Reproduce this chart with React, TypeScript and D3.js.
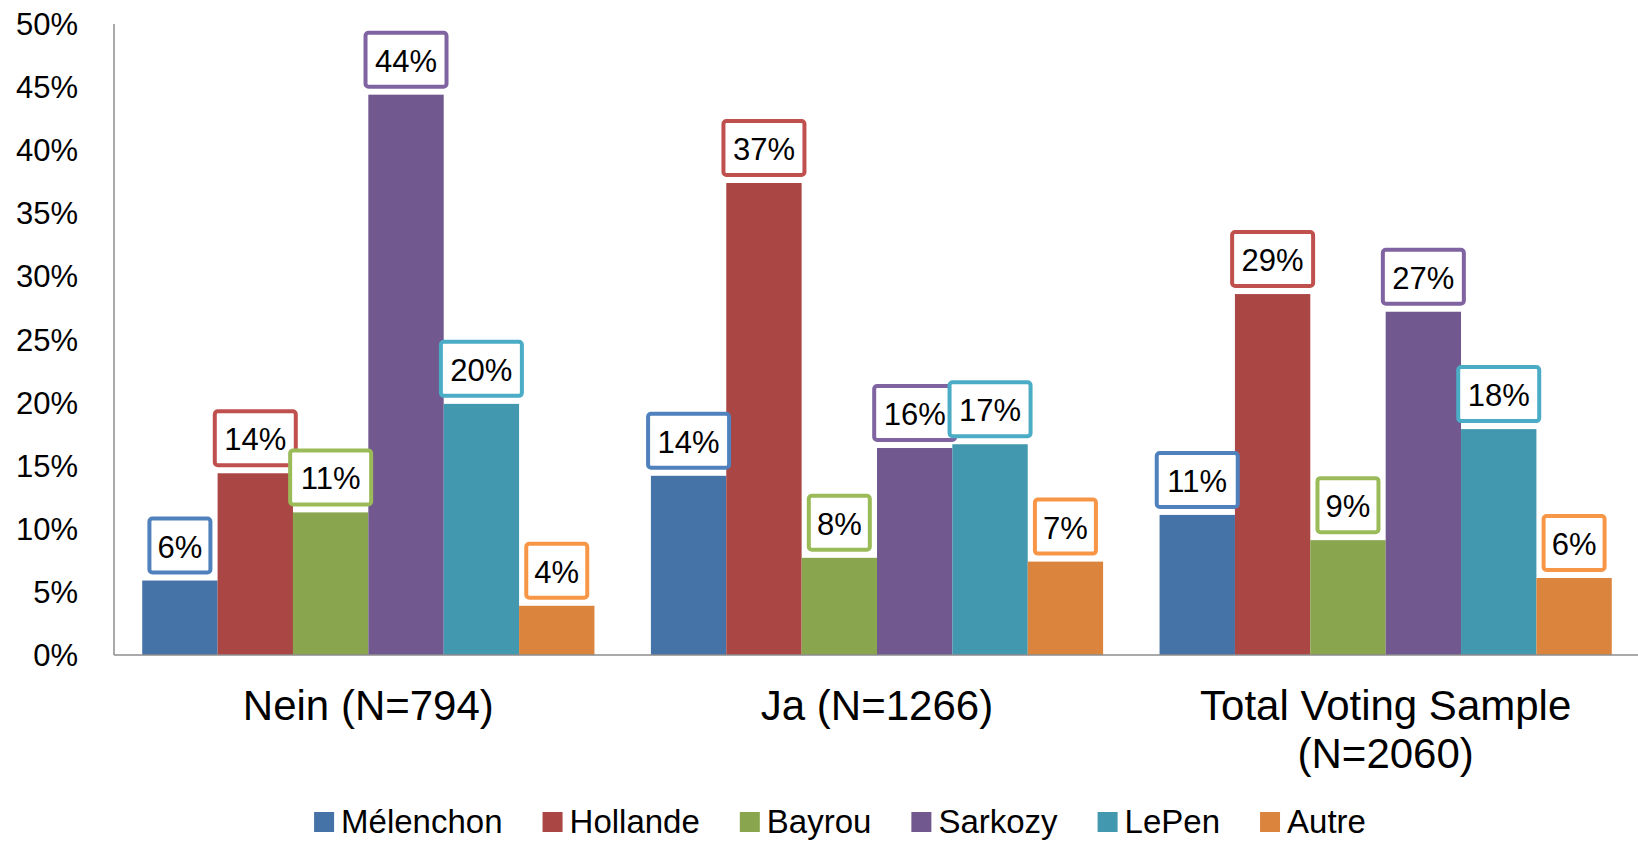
import React, { useEffect, useRef } from 'react';
import * as d3 from 'd3';

const groups = ['Nein (N=794)', 'Ja (N=1266)', 'Total Voting Sample (N=2060)'];
const groupLines = [['Nein (N=794)'], ['Ja (N=1266)'], ['Total Voting Sample', '(N=2060)']];
const candidates = ['Mélenchon', 'Hollande', 'Bayrou', 'Sarkozy', 'LePen', 'Autre'];

// percentages per candidate, one value per group
const melenchon = [5.9, 14.2, 11.1];
const hollande = [14.4, 37.4, 28.6];
const bayrou = [11.3, 7.7, 9.1];
const sarkozy = [44.4, 16.4, 27.2];
const lepen = [19.9, 16.7, 17.9];
const autre = [3.9, 7.4, 6.1];

const yTicks = [0, 5, 10, 15, 20, 25, 30, 35, 40, 45, 50];

const barColors = ['#4572A7', '#AA4643', '#89A54E', '#71588F', '#4198AF', '#DB843D'];
const boxColors = ['#4F81BD', '#C0504D', '#9BBB59', '#8064A2', '#4BACC6', '#F79646'];

const FONT = '"Liberation Sans", Arial, sans-serif';

const App: React.FC = () => {
  const svgRef = useRef<SVGSVGElement>(null);

  useEffect(() => {
    if (!svgRef.current) return;
    const width = 1638;
    const height = 842;
    const margin = { top: 24, right: 0, bottom: 187, left: 114 };

    const series = [melenchon, hollande, bayrou, sarkozy, lepen, autre];

    const svg = d3.select(svgRef.current);
    svg.selectAll('*').remove();

    const x0 = d3.scaleBand<string>()
      .domain(groups)
      .range([margin.left, width + 2])
      .paddingInner(0.111)
      .paddingOuter(0.0555);

    const x1 = d3.scaleBand<string>()
      .domain(candidates)
      .range([0, x0.bandwidth()]);

    const y = d3.scaleLinear()
      .domain([0, 50])
      .range([height - margin.bottom, margin.top]);

    // y tick labels
    svg.append('g')
      .selectAll('text')
      .data(yTicks)
      .enter().append('text')
      .attr('x', 78)
      .attr('y', d => y(d) + 11)
      .attr('text-anchor', 'end')
      .style('font-family', FONT)
      .style('font-size', '31px')
      .attr('fill', '#000')
      .text(d => `${d}%`);

    // bars
    const gGroups = svg.append('g')
      .selectAll('g')
      .data(groups)
      .enter().append('g')
      .attr('transform', d => `translate(${x0(d)},0)`);

    gGroups.each(function (_g, gi) {
      const sel = d3.select(this);
      candidates.forEach((c, ci) => {
        const v = series[ci][gi];
        sel.append('rect')
          .attr('x', x1(c)!)
          .attr('y', y(v))
          .attr('width', x1.bandwidth())
          .attr('height', y(0) - y(v))
          .attr('fill', barColors[ci]);
      });
    });

    // axes lines
    svg.append('line')
      .attr('x1', margin.left).attr('x2', margin.left)
      .attr('y1', y(50)).attr('y2', y(0))
      .attr('stroke', '#8c8c8c').attr('stroke-width', 1.5);
    svg.append('line')
      .attr('x1', margin.left).attr('x2', width)
      .attr('y1', y(0)).attr('y2', y(0))
      .attr('stroke', '#8c8c8c').attr('stroke-width', 1.5);

    // data labels
    gGroups.each(function (_g, gi) {
      const sel = d3.select(this);
      candidates.forEach((c, ci) => {
        const v = series[ci][gi];
        const label = `${Math.round(v)}%`;
        const cx = x1(c)! + x1.bandwidth() / 2;
        const bw = label.length > 2 ? 81 : 61;
        const bh = 54;
        const bottom = y(v) - 8;
        const lg = sel.append('g');
        lg.append('rect')
          .attr('x', cx - bw / 2)
          .attr('y', bottom - bh)
          .attr('width', bw)
          .attr('height', bh)
          .attr('rx', 3)
          .attr('fill', '#fff')
          .attr('stroke', boxColors[ci])
          .attr('stroke-width', 4);
        lg.append('text')
          .attr('x', cx)
          .attr('y', bottom - bh / 2 + 12)
          .attr('text-anchor', 'middle')
          .style('font-family', FONT)
          .style('font-size', '31px')
          .attr('fill', '#000')
          .text(label);
      });
    });

    // category labels
    groups.forEach((g, gi) => {
      const cx = x0(g)! + x0.bandwidth() / 2;
      groupLines[gi].forEach((line, li) => {
        svg.append('text')
          .attr('x', cx)
          .attr('y', 720 + li * 48)
          .attr('text-anchor', 'middle')
          .style('font-family', FONT)
          .style('font-size', '42px')
          .attr('fill', '#000')
          .text(line);
      });
    });

    // legend
    const legend = svg.append('g');
    let cursor = 0;
    candidates.forEach((c, ci) => {
      const item = legend.append('g');
      item.append('rect')
        .attr('x', 0).attr('y', -21)
        .attr('width', 20).attr('height', 20)
        .attr('fill', barColors[ci]);
      const t = item.append('text')
        .attr('x', 27).attr('y', 0)
        .style('font-family', FONT)
        .style('font-size', '33px')
        .attr('fill', '#000')
        .text(c);
      const w = (t.node() as SVGTextElement).getComputedTextLength();
      item.attr('transform', `translate(${cursor},833)`);
      cursor += 27 + w + 40;
    });
    const total = cursor - 40;
    legend.attr('transform', `translate(${840 - total / 2},0)`);
  }, []);

  return (
    <svg
      ref={svgRef}
      width={1638}
      height={842}
      style={{ position: 'absolute', left: 0, top: 0, background: '#fff' }}
    />
  );
};

export default App;
